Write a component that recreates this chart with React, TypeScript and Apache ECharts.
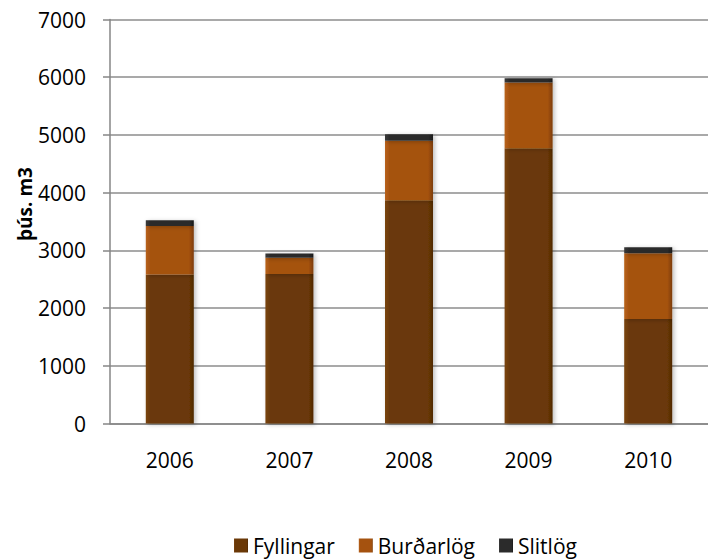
import React, { useEffect, useRef } from "react";
import * as echarts from "echarts";

const categories = ["2006", "2007", "2008", "2009", "2010"];
const fyllingar = [2580, 2590, 3870, 4770, 1810];
const burdarlog = [840, 280, 1030, 1140, 1140];
const slitlog = [100, 75, 110, 70, 105];
const yTicks = { min: 0, max: 7000, interval: 1000 };

const FONT = "'Open Sans', 'Noto Sans', sans-serif";

function grad(light: string, base: string, dark: string) {
  return new echarts.graphic.LinearGradient(0, 0, 1, 0, [
    { offset: 0, color: light },
    { offset: 0.1, color: base },
    { offset: 0.9, color: base },
    { offset: 1, color: dark },
  ]);
}

export default function App() {
  const ref = useRef<HTMLDivElement>(null);
  useEffect(() => {
    if (!ref.current) return;
    const chart = echarts.init(ref.current, undefined, { renderer: "svg" });
    const shadow = {
      shadowBlur: 4,
      shadowOffsetX: 2,
      shadowOffsetY: 1,
      shadowColor: "rgba(0,0,0,0.25)",
    };
    chart.setOption({
      animation: false,
      backgroundColor: "#ffffff",
      grid: { left: 110, top: 19.5, width: 606, height: 404, containLabel: false },
      legend: {
        left: 229,
        top: 530,
        itemWidth: 14,
        itemHeight: 14,
        itemGap: 24,
        icon: "rect",
        textStyle: { fontFamily: FONT, fontSize: 21, color: "#000" },
        data: ["Fyllingar", "Burðarlög", "Slitlög"],
      },
      xAxis: {
        type: "category",
        data: categories,
        axisTick: { show: false },
        axisLine: { lineStyle: { color: "#868686", width: 1.5 } },
        axisLabel: { fontFamily: FONT, fontSize: 21, color: "#000", margin: 26 },
      },
      yAxis: {
        type: "value",
        min: yTicks.min,
        max: yTicks.max,
        interval: yTicks.interval,
        axisLine: { show: true, lineStyle: { color: "#868686", width: 1.5 } },
        axisTick: { show: true, length: 7, lineStyle: { color: "#868686", width: 1.5 } },
        splitLine: { lineStyle: { color: "#8c8c8c", width: 1.5 } },
        axisLabel: {
          fontFamily: FONT,
          fontSize: 21,
          color: "#000",
          margin: 24,
          formatter: (v: number) => String(v),
        },
      },
      graphic: [
        {
          type: "text",
          x: 25,
          y: 204,
          rotation: Math.PI / 2,
          style: {
            text: "þús. m3",
            x: 0,
            y: 0,
            textAlign: "center",
            textVerticalAlign: "middle",
            fontFamily: FONT,
            fontSize: 19,
            fontWeight: "bold",
            fill: "#000",
          },
        },
      ],
      series: [
        {
          name: "Fyllingar",
          type: "bar",
          stack: "total",
          barWidth: 48,
          data: fyllingar,
          itemStyle: { color: grad("#7a4512", "#6a3807", "#4f2904"), ...shadow },
        },
        {
          name: "Burðarlög",
          type: "bar",
          stack: "total",
          barWidth: 48,
          data: burdarlog,
          itemStyle: { color: grad("#b8621c", "#a5520f", "#7d3d08"), ...shadow },
        },
        {
          name: "Slitlög",
          type: "bar",
          stack: "total",
          barWidth: 48,
          data: slitlog,
          itemStyle: { color: grad("#3a3a3a", "#2b2b2b", "#1a1a1a"), ...shadow },
        },
      ],
    });
    return () => chart.dispose();
  }, []);
  return (
    <div
      ref={ref}
      style={{ position: "fixed", left: 0, top: 0, width: 708, height: 559 }}
    />
  );
}
